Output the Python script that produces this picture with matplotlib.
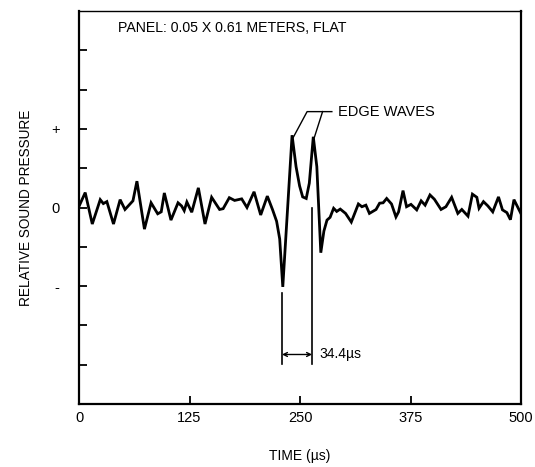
import matplotlib.pyplot as plt

plt.rcParams['font.family'] = ['Liberation Sans', 'DejaVu Sans']

# trace (time in microseconds, relative pressure)
time_us = [0, 7, 15, 24, 27.5, 31.5, 39, 46.5, 52, 61, 65.5, 74, 81.5, 89, 93,
           96.5, 104, 112, 116, 119, 122, 127.5, 135, 142.5, 150, 159, 163,
           170, 176, 180, 184, 190, 198, 205.5, 213, 219, 223.5, 227, 230.5,
           241, 245.5, 249.5, 253, 257, 260.5, 265, 269, 273.5, 277, 280.5,
           284, 288, 291.5, 295.5, 301.5, 308, 316, 320, 324.5, 328.5, 336,
           340, 344, 348, 353.5, 358.5, 361.5, 366.5, 370.5, 375.5, 382, 387,
           391.5, 397, 402, 409.5, 415, 421.5, 428.5, 433, 440, 445, 450,
           452.5, 457.5, 462.5, 468, 474.5, 479, 484, 488, 492, 500]
pressure = [0.03, 0.38, -0.42, 0.2, 0.1, 0.15, -0.42, 0.2, -0.05, 0.17, 0.67,
            -0.55, 0.12, -0.16, -0.11, 0.37, -0.32, 0.12, 0.04, -0.08, 0.14,
            -0.12, 0.5, -0.42, 0.26, -0.05, -0.03, 0.25, 0.18, 0.2, 0.22, 0.0,
            0.4, -0.19, 0.29, -0.06, -0.35, -0.8, -2.02, 1.84, 1.04, 0.55,
            0.27, 0.23, 0.62, 1.8, 1.04, -1.15, -0.6, -0.32, -0.25, -0.02,
            -0.1, -0.04, -0.15, -0.37, 0.09, 0.02, 0.06, -0.15, -0.05, 0.11,
            0.12, 0.23, 0.09, -0.24, -0.11, 0.43, 0.02, 0.08, -0.06, 0.17,
            0.06, 0.32, 0.21, -0.05, 0.02, 0.26, -0.15, -0.05, -0.22, 0.34,
            0.26, -0.02, 0.15, 0.04, -0.11, 0.27, -0.06, -0.13, -0.31, 0.2,
            -0.16]

x_ticks = [0, 125, 250, 375, 500]
y_ticks = [-4, -3, -2, -1, 0, 1, 2, 3, 4]
y_labels = ['', '', '-', '', '0', '', '+', '', '']

edge_peaks = [(242, 1.77), (266, 1.77)]
gap_start, gap_end = 229.6, 263.6
gap_text = '34.4µs'

fig = plt.figure(figsize=(5.35, 4.67), dpi=100)
ax = fig.add_axes([0.1477, 0.1349, 0.8262, 0.8415])

ax.plot(time_us, pressure, color='black', lw=2.0, solid_joinstyle='miter')

ax.set_xlim(0, 500)
ax.set_ylim(-5, 5)
ax.set_xticks(x_ticks)
ax.set_yticks(y_ticks)
ax.set_yticklabels(y_labels)
ax.tick_params(axis='both', direction='in', length=6, width=1.3,
               labelsize=10.5, color='black')
ax.tick_params(axis='x', pad=5)
ax.tick_params(axis='y', pad=14)
for side in ['left', 'bottom', 'right']:
    ax.spines[side].set_linewidth(1.6)
ax.spines['top'].set_linewidth(1.0)

ax.set_xlabel('TIME (µs)', fontsize=10, labelpad=17)
ax.set_ylabel('RELATIVE SOUND PRESSURE', fontsize=9.8, labelpad=13)

ax.text(44, 4.57, 'PANEL: 0.05 X 0.61 METERS, FLAT', fontsize=10.2,
        va='center', ha='left')

# edge wave leaders
ax.plot([edge_peaks[0][0], 258, 286], [edge_peaks[0][1], 2.44, 2.44],
        color='black', lw=1.0)
ax.plot([edge_peaks[1][0], 275.5], [edge_peaks[1][1], 2.44],
        color='black', lw=1.0)
ax.text(293, 2.42, 'EDGE WAVES', fontsize=10.5, va='center', ha='left')

# spacing marker
ax.plot([gap_start, gap_start], [-2.17, -3.97], color='black', lw=1.2)
ax.plot([gap_end, gap_end], [0.0, -3.97], color='black', lw=1.2)
ax.annotate('', xy=(gap_end, -3.74), xytext=(gap_start, -3.74),
            arrowprops=dict(arrowstyle='<->', lw=1.0, color='black',
                            mutation_scale=7, shrinkA=0, shrinkB=0))
ax.text(gap_end + 8, -3.74, gap_text, fontsize=10, va='center', ha='left')

fig.savefig('out.png', dpi=100)
